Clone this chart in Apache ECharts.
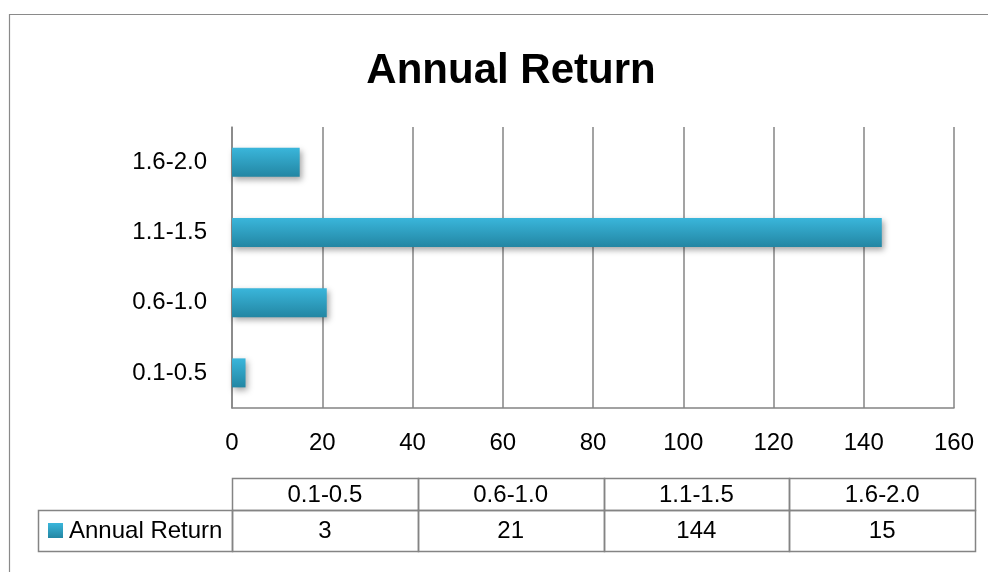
<!DOCTYPE html>
<html>
<head>
<meta charset="utf-8">
<script src="https://cdn.jsdelivr.net/npm/echarts@6/dist/echarts.min.js"></script>
<style>
html, body { margin: 0; padding: 0; background: #fff; }
#chart { width: 988px; height: 572px; }
</style>
</head>
<body>
<div id="chart"></div>
<script>
const chartTitle = 'Annual Return'
const seriesName = 'Annual Return'
const categories = ['0.1-0.5', '0.6-1.0', '1.1-1.5', '1.6-2.0']
const returns = [3, 21, 144, 15]
const xTicks = [0, 160, 20] // min, max, step

const font = 'Liberation Sans'
const fontSize = 24
const lineColor = '#848484'
function barFill() {
    return new echarts.graphic.LinearGradient(0, 0, 0, 1, [
        {offset: 0, color: '#3AB6DB'},
        {offset: 1, color: '#2386A3'}
    ])
}

// data table under the plot, built from the same arrays
const tLeft = 232, colW = 185.75, headTop = 478.5, rowTop = 510.5, rowBottom = 551.5, legLeft = 38.5
const cellFont = fontSize + 'px "' + font + '"'
let table = []
for (let i = 0; i < categories.length; i++) {
    let x = tLeft + i * colW
    let cx = Math.round(x) + 0.5
    let nx = Math.round(x + colW) + 0.5
    table.push({
        type: 'rect',
        shape: {x: cx, y: headTop, width: nx - cx, height: rowTop - headTop},
        style: {fill: 'none', stroke: lineColor, lineWidth: 1.5}
    })
    table.push({
        type: 'rect',
        shape: {x: cx, y: rowTop, width: nx - cx, height: rowBottom - rowTop},
        style: {fill: 'none', stroke: lineColor, lineWidth: 1.5}
    })
    table.push({
        type: 'text', x: x + colW / 2, y: (headTop + rowTop) / 2 + 1,
        style: {text: categories[i], font: cellFont, fill: '#000', align: 'center', verticalAlign: 'middle'}
    })
    table.push({
        type: 'text', x: x + colW / 2, y: (rowTop + rowBottom) / 2,
        style: {text: String(returns[i]), font: cellFont, fill: '#000', align: 'center', verticalAlign: 'middle'}
    })
}
table.push({
    type: 'rect',
    shape: {x: legLeft, y: rowTop, width: tLeft + 0.5 - legLeft, height: rowBottom - rowTop},
    style: {fill: 'none', stroke: lineColor, lineWidth: 1.5}
})
table.push({
    type: 'rect',
    shape: {x: 48, y: 523, width: 15, height: 15},
    style: {fill: barFill()}
})
table.push({
    type: 'text', x: 69, y: (rowTop + rowBottom) / 2,
    style: {text: seriesName, font: cellFont, fill: '#000', align: 'left', verticalAlign: 'middle'}
})
// outer chart frame
table.push({
    type: 'rect',
    shape: {x: 9.5, y: 14.5, width: 1000, height: 600},
    style: {fill: 'none', stroke: '#8a8a8a', lineWidth: 1.2},
    z: -1
})

let option = {
    backgroundColor: '#fff',
    animation: false,
    title: {
        text: chartTitle,
        left: 506,
        top: 66,
        textAlign: 'center',
        textVerticalAlign: 'middle',
        textStyle: {fontFamily: font, fontSize: 42, fontWeight: 'bold', color: '#000'}
    },
    grid: {
        left: 232,
        top: 127,
        width: 722,
        height: 281,
        containLabel: false,
        outerBoundsMode: 'none'
    },
    xAxis: {
        type: 'value',
        min: xTicks[0],
        max: xTicks[1],
        interval: xTicks[2],
        axisLine: {show: true, lineStyle: {color: lineColor, width: 1.5}},
        axisTick: {show: false},
        splitLine: {show: true, lineStyle: {color: lineColor, width: 1.5}},
        axisLabel: {color: '#000', fontFamily: font, fontSize: fontSize, margin: 23}
    },
    yAxis: {
        type: 'category',
        data: categories,
        axisLine: {show: true, lineStyle: {color: lineColor, width: 1.5}},
        axisTick: {show: false},
        splitLine: {show: false},
        axisLabel: {color: '#000', fontFamily: font, fontSize: fontSize, margin: 25}
    },
    series: [{
        name: seriesName,
        type: 'bar',
        data: returns,
        barWidth: 29,
        itemStyle: {
            color: barFill(),
            shadowColor: 'rgba(0,0,0,0.35)',
            shadowBlur: 6,
            shadowOffsetX: 2,
            shadowOffsetY: 3
        }
    }],
    graphic: table
}

const dom = document.getElementById('chart')
const myChart = echarts.init(dom)
myChart.setOption(option, true)
</script>
</body>
</html>
